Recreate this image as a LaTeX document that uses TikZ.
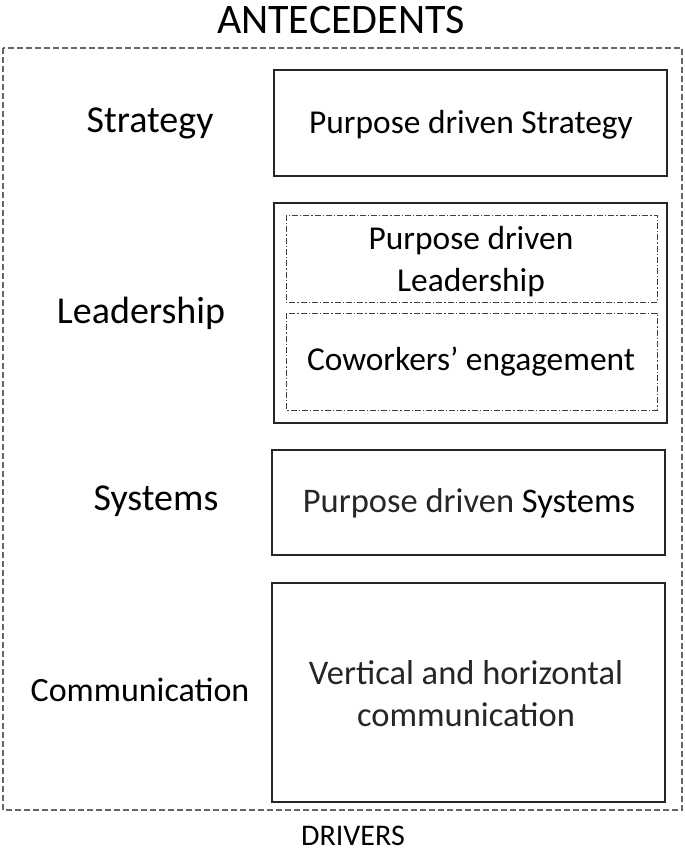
\documentclass[tikz,border=0pt]{standalone}
\usepackage{fontspec}
\setmainfont{Carlito}
\begin{document}
\begin{tikzpicture}[x=1pt,y=-1pt,
  box/.style={draw=black!85,line width=1.5pt},
  inbox/.style={draw=black!75,line width=1pt,dash pattern=on 6pt off 2pt on 1.3pt off 2pt},
  outer/.style={draw=black!60,line width=2pt,dash pattern=on 6pt off 3pt},
  lab/.style={font=\fontsize{38}{44}\selectfont,anchor=center,inner sep=0pt},
  txt/.style={font=\fontsize{33.4}{42}\selectfont,align=center,anchor=center,inner sep=0pt},
  lighttxt/.style={txt,font=\fontsize{34.5}{42}\selectfont,text=black!85}]
\useasboundingbox (0,0) rectangle (685,860);
\node[font=\fontsize{42}{46}\selectfont,inner sep=0pt] (title) at (341,20) {ANTECEDENTS};
\node[font=\fontsize{30}{34}\selectfont,inner sep=0pt] (drivers) at (353,836) {DRIVERS};
\draw[outer] (3,48) rectangle (682,810);
% boxes
\draw[box] (274,70) rectangle (667,176);
\node[txt] (strat) at (471,125) {Purpose driven Strategy};
\node[lab] (lstrat) at (150,123) {Strategy};

\draw[box] (274,203) rectangle (667,423);
\draw[inbox] (286,215) rectangle (657,302);
\draw[inbox] (286,313) rectangle (657,410);
\node[txt] (lead) at (471,262) {Purpose driven\\Leadership};
\node[txt] (cow) at (471,362) {Coworkers’ engagement};
\node[lab] (llead) at (141,313) {Leadership};

\draw[box] (272,450) rectangle (665,555);
\node[lighttxt] (sys) at (469,503) {Purpose driven \textcolor{black}{Systems}};
\node[lab] (lsys) at (156,501) {Systems};

\draw[box] (272,583) rectangle (665,802);
\node[lighttxt] (comm) at (466,694) {Vertical and horizontal\\communication};
\node[lab,font=\fontsize{34}{40}\selectfont] (lcomm) at (140,690) {Communication};
\end{tikzpicture}
\end{document}
